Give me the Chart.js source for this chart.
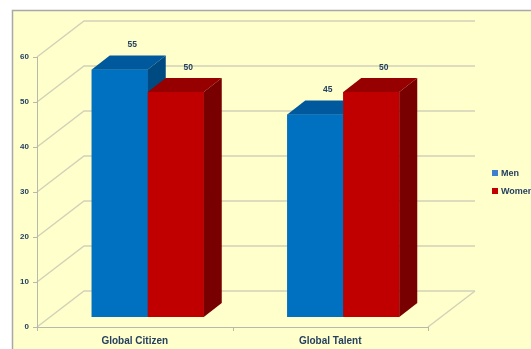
<!DOCTYPE html>
<html lang="en">
<head>
  <meta charset="utf-8">
  <title>Global Citizen / Global Talent</title>
  <style>
    body { margin: 0; background: #fff; }
  </style>
</head>
<body>
  <canvas id="chart" width="531" height="349"></canvas>

  <script src="https://cdn.jsdelivr.net/npm/chart.js"></script>
  <script>
    const categories = ["Global Citizen", "Global Talent"];
    const men = [55, 45];
    const women = [50, 50];
    const seriesNames = ["Men", "Women"];

    const TEXT = "#243f60";
    const FONT = "'Liberation Sans', Arial, sans-serif";

    // 3d offsets: back wall, bar plane, bar depth
    const WALL = { dx: 47, dy: -36 };
    const SHIFT = { dx: 13, dy: -10 };
    const DEPTH = { dx: 18, dy: -14 };

    const shades = {
      "#0070c0": { top: "#00599c", side: "#004a82" },
      "#c00000": { top: "#960000", side: "#780000" }
    };

    function poly(ctx, pts, fill) {
      ctx.beginPath();
      ctx.moveTo(pts[0][0], pts[0][1]);
      for (let i = 1; i < pts.length; i++) ctx.lineTo(pts[i][0], pts[i][1]);
      ctx.closePath();
      ctx.fillStyle = fill;
      ctx.fill();
    }

    const box3d = {
      id: "box3d",
      beforeDraw(chart) {
        const { ctx, chartArea: a, scales: { y } } = chart;
        ctx.save();
        ctx.fillStyle = "#ffffcc";
        ctx.fillRect(12, 10, chart.width, chart.height);
        ctx.strokeStyle = "#a8a8a8";
        ctx.lineWidth = 1.5;
        ctx.strokeRect(12.5, 10.5, chart.width, chart.height);

        // walls and floor
        ctx.strokeStyle = "#d2d2b8";
        ctx.lineWidth = 1.5;
        y.ticks.forEach(t => {
          const py = y.getPixelForValue(t.value);
          ctx.beginPath();
          ctx.moveTo(a.left, py);
          ctx.lineTo(a.left + WALL.dx, py + WALL.dy);
          ctx.lineTo(a.right + WALL.dx, py + WALL.dy);
          ctx.stroke();
        });
        ctx.beginPath();
        ctx.moveTo(a.right, a.bottom);
        ctx.lineTo(a.right + WALL.dx, a.bottom + WALL.dy);
        ctx.stroke();

        // front axes with tick marks
        ctx.strokeStyle = "#b8b8ac";
        ctx.lineWidth = 1;
        ctx.beginPath();
        ctx.moveTo(a.left + 0.5, a.top);
        ctx.lineTo(a.left + 0.5, a.bottom);
        ctx.moveTo(a.left, a.bottom + 0.5);
        ctx.lineTo(a.right, a.bottom + 0.5);
        y.ticks.forEach(t => {
          const py = Math.round(y.getPixelForValue(t.value)) + 0.5;
          ctx.moveTo(a.left - 4, py);
          ctx.lineTo(a.left, py);
        });
        const step = (a.right - a.left) / categories.length;
        for (let i = 0; i <= categories.length; i++) {
          const px = Math.round(a.left + i * step) + 0.5;
          ctx.moveTo(px, a.bottom);
          ctx.lineTo(px, a.bottom + 4);
        }
        ctx.stroke();
        ctx.restore();
      },
      beforeDatasetsDraw(chart) {
        chart.ctx.save();
        chart.ctx.translate(SHIFT.dx, SHIFT.dy);
      },
      afterDatasetsDraw(chart) {
        // redraw each box front-to-back per category so the side faces overlap properly
        const ctx = chart.ctx;
        const metas = chart.data.datasets.map((_, i) => chart.getDatasetMeta(i));
        categories.forEach((_, j) => {
          metas.forEach((meta, i) => {
            const bar = meta.data[j];
            const sh = shades[chart.data.datasets[i].backgroundColor];
            const { x, y, base, width } = bar.getProps(["x", "y", "base", "width"], true);
            const l = x - width / 2, r = x + width / 2;
            bar.draw(ctx);
            poly(ctx, [[l, y], [l + DEPTH.dx, y + DEPTH.dy], [r + DEPTH.dx, y + DEPTH.dy], [r, y]], sh.top);
            poly(ctx, [[r, y], [r + DEPTH.dx, y + DEPTH.dy], [r + DEPTH.dx, base + DEPTH.dy], [r, base]], sh.side);
          });
        });
        ctx.restore();
      },
      afterDraw(chart) {
        const ctx = chart.ctx;
        ctx.save();
        ctx.fillStyle = TEXT;
        ctx.font = "bold 8.5px " + FONT;
        ctx.textAlign = "center";
        ctx.textBaseline = "middle";
        chart.data.datasets.forEach((ds, i) => {
          chart.getDatasetMeta(i).data.forEach((bar, j) => {
            ctx.fillText(String(ds.data[j]), bar.x + SHIFT.dx + 12.5, bar.y + SHIFT.dy - 24.5);
          });
        });

        // legend
        ctx.textAlign = "left";
        ctx.font = "bold 9px " + FONT;
        chart.data.datasets.forEach((ds, i) => {
          const cy = 173 + i * 18;
          ctx.fillStyle = i === 0 ? "#3c7fcc" : ds.backgroundColor;
          ctx.fillRect(492, cy - 3, 6, 6);
          ctx.fillStyle = TEXT;
          ctx.fillText(ds.label, 501, cy + 0.5);
        });
        ctx.restore();
      }
    };

    new Chart(document.getElementById("chart"), {
      type: "bar",
      data: {
        labels: categories,
        datasets: [
          { label: seriesNames[0], data: men, backgroundColor: "#0070c0" },
          { label: seriesNames[1], data: women, backgroundColor: "#c00000" }
        ]
      },
      options: {
        responsive: false,
        animation: false,
        datasets: { bar: { categoryPercentage: 0.573, barPercentage: 1, borderWidth: 0, clip: false } },
        layout: { padding: { top: 57, right: 103, left: 0, bottom: 0 } },
        plugins: { legend: { display: false }, tooltip: { enabled: false } },
        scales: {
          x: {
            grid: { display: false, drawTicks: false },
            border: { display: false },
            ticks: { padding: 8, color: TEXT, font: { family: FONT, size: 10, weight: "bold" } },
            afterFit: s => { s.height = 22; }
          },
          y: {
            min: 0,
            max: 60,
            grid: { display: false, drawTicks: false },
            border: { display: false },
            ticks: { stepSize: 10, padding: 8, color: TEXT, font: { family: FONT, size: 8, weight: "bold" } },
            afterFit: s => { s.width = 37; }
          }
        }
      },
      plugins: [box3d]
    });
  </script>
</body>
</html>
